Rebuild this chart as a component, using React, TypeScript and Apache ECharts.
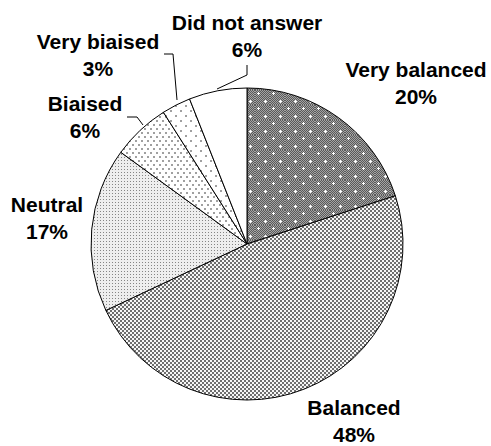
import React, { useEffect, useRef } from 'react';
import * as echarts from 'echarts';

const categories = ['Very balanced', 'Balanced', 'Neutral', 'Biaised', 'Very biaised', 'Did not answer'];
const values = [20, 48, 17, 6, 3, 6];

const labelPos: number[][] = [[416, 83], [354, 421], [47, 218], [85, 117], [98, 55], [247, 36]];
const linePts: (number[][] | null)[] = [
  null,
  null,
  null,
  [[143, 125], [137, 117], [127, 117]],
  [[177, 100], [173, 54], [164, 54]],
  [[217, 89], [247, 75], [247, 65]],
];

function tile(w: number, h: number, draw: (ctx: CanvasRenderingContext2D) => void): any {
  const c = document.createElement('canvas');
  c.width = w;
  c.height = h;
  const ctx = c.getContext('2d') as CanvasRenderingContext2D;
  draw(ctx);
  return { image: c.toDataURL(), repeat: 'repeat', imageWidth: w, imageHeight: h };
}

function px(ctx: CanvasRenderingContext2D, x: number, y: number, col: string, s = 1) {
  ctx.fillStyle = col;
  ctx.fillRect(x, y, s, s);
}

function makePatterns() {
  const veryBalanced = tile(15, 15, (ctx) => {
    for (let y = 0; y < 15; y++)
      for (let x = 0; x < 15; x++) px(ctx, x, y, (x + y) % 2 === 0 ? '#5a5a5a' : '#a4a4a4');
    const cross = (cx: number, cy: number) => {
      px(ctx, cx, cy, '#ffffff');
      px(ctx, cx - 1, cy, '#ffffff');
      px(ctx, cx + 1, cy, '#ffffff');
      px(ctx, cx, cy - 1, '#ffffff');
      px(ctx, cx, cy + 1, '#ffffff');
    };
    cross(3, 3);
    cross(10, 11);
  });
  const balanced = tile(4, 4, (ctx) => {
    ctx.fillStyle = '#f6f6f6';
    ctx.fillRect(0, 0, 4, 4);
    px(ctx, 0, 0, '#6e6e6e', 2);
    px(ctx, 2, 2, '#6e6e6e', 2);
  });
  const neutral = tile(3, 3, (ctx) => {
    ctx.fillStyle = '#eeeeee';
    ctx.fillRect(0, 0, 3, 3);
    px(ctx, 1, 1, '#858585');
  });
  const biaised = tile(6, 8, (ctx) => {
    ctx.fillStyle = '#ffffff';
    ctx.fillRect(0, 0, 6, 8);
    px(ctx, 0, 0, '#a0a0a0', 2);
    px(ctx, 3, 4, '#a0a0a0', 2);
  });
  const veryBiaised = tile(10, 10, (ctx) => {
    ctx.fillStyle = '#ffffff';
    ctx.fillRect(0, 0, 10, 10);
    px(ctx, 0, 0, '#a0a0a0', 2);
    px(ctx, 5, 5, '#a0a0a0', 2);
  });
  return [veryBalanced, balanced, neutral, biaised, veryBiaised, '#ffffff'];
}

export default function App() {
  const ref = useRef<HTMLDivElement>(null);
  useEffect(() => {
    if (!ref.current) return;
    const chart = echarts.init(ref.current, null, { renderer: 'svg' });
    const fills = makePatterns();
    chart.setOption({
      animation: false,
      backgroundColor: '#ffffff',
      series: [
        {
          type: 'pie',
          center: [247, 244],
          radius: [0, 156],
          startAngle: 90,
          clockwise: true,
          avoidLabelOverlap: false,
          data: categories.map((name, i) => ({
            name,
            value: values[i],
            itemStyle: { color: fills[i] },
            labelLine: { show: !!linePts[i] },
          })),
          itemStyle: { borderColor: '#000000', borderWidth: 1 },
          label: {
            show: true,
            position: 'outside',
            formatter: '{b}\n{c}%',
            color: '#000000',
            fontFamily: '"Liberation Sans", Arial, sans-serif',
            fontWeight: 'bold',
            fontSize: 21,
            lineHeight: 27,
            align: 'center',
            overflow: 'none',
          },
          labelLine: {
            show: true,
            lineStyle: { color: '#000000', width: 1 },
          },
          labelLayout: (p: any) => {
            const i = p.dataIndex;
            const r: any = { x: labelPos[i][0], y: labelPos[i][1], align: 'center', verticalAlign: 'middle' };
            if (linePts[i]) r.labelLinePoints = linePts[i];
            return r;
          },
          emphasis: { disabled: true },
        },
      ],
    });
    return () => chart.dispose();
  }, []);
  return <div ref={ref} style={{ position: 'fixed', left: 0, top: 0, width: 491, height: 446 }} />;
}
